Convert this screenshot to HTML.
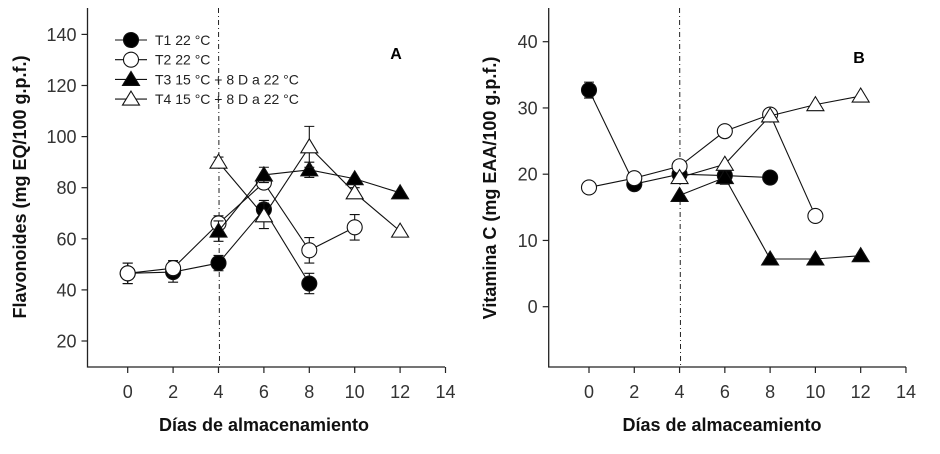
<!DOCTYPE html>
<html><head><meta charset="utf-8"><style>
body{margin:0;background:#fff;}
svg{display:block;font-family:"Liberation Sans",sans-serif;}
.tick{font-size:18px;fill:#333;}
.title{font-size:18px;font-weight:bold;fill:#111;}
</style></head><body>
<svg id="chart" width="940" height="454"></svg>
<script>
const days = [0,2,4,6,8,10,12];
const xTicks = [0,2,4,6,8,10,12,14];
const aYTicks = [20,40,60,80,100,120,140];
const bYTicks = [0,10,20,30,40];
const seriesNames = ["T1 22 °C","T2 22 °C","T3 15 °C + 8 D a 22 °C","T4 15 °C + 8 D a 22 °C"];
const aT1 = [46.5,47,50.5,71.5,42.5,null,null];
const aT2 = [46.5,48.5,66,82,55.5,64.5,null];
const aT3 = [null,null,63,85,87,83.5,78];
const aT4 = [null,null,90,69,96,78,63];
const aT1err = [4,4,3,3.5,4,0,0];
const aT2err = [4,3,3,2,5,5,0];
const aT3err = [0,0,4,3,3,0,0];
const aT4err = [0,0,2,5,8,2,0];
const bT1 = [32.7,18.5,20,19.8,19.5,null,null];
const bT2 = [18,19.4,21.2,26.5,29,13.7,null];
const bT3 = [null,null,16.8,19.5,7.2,7.2,7.7];
const bT4 = [null,null,19.5,21.5,28.8,30.5,31.8];
const bT1err = [1.2,0,0,0,0,0,0];
const bT2err = [0,0,0,0,0,0,0];
const bT3err = [0,0,0,1,0,0,0];
const bT4err = [0,0,0,0,0,0,0];

const svg = document.getElementById('chart');
const NS = 'http://www.w3.org/2000/svg';
function mk(tag, attrs, parent){const e=document.createElementNS(NS,tag);for(const k in attrs)e.setAttribute(k,attrs[k]);(parent||svg).appendChild(e);return e;}

function panel(cfg){
  const g = mk('g',{});
  
  
  const xs = v => cfg.x0 + (v - 0) * cfg.xu;
  const ys = v => cfg.y0 - (v - cfg.yRef) * cfg.yu;
  const ax = mk('path',{d:`M${cfg.left},${cfg.top} V${cfg.bottom} H${cfg.right}`,stroke:'#222','stroke-width':1.3,fill:'none'},g);
  
  
  xTicks.forEach(t=>{
    mk('line',{x1:xs(t),x2:xs(t),y1:cfg.bottom,y2:cfg.bottom+6,stroke:'#222','stroke-width':1.2},g);
    const tx = mk('text',{x:xs(t),y:cfg.bottom+31,'text-anchor':'middle',class:'tick'},g);
    tx.textContent=t;
    
    
  });
  cfg.yTicks.forEach(t=>{
    mk('line',{x1:cfg.left-6,x2:cfg.left,y1:ys(t),y2:ys(t),stroke:'#222','stroke-width':1.2},g);
    const tx = mk('text',{x:cfg.left-11,y:ys(t)+6.5,'text-anchor':'end',class:'tick'},g);
    tx.textContent=t;
    
    
  });
  const dl = mk('line',{x1:xs(4),x2:xs(4)+1,y1:cfg.top,y2:cfg.bottom,stroke:'#222','stroke-width':1,'stroke-dasharray':'5,3,1,3'},g);
  
  
  const xt = mk('text',{x:cfg.xtx,y:431,'text-anchor':'middle',class:'title'},g);
  xt.textContent=cfg.xTitle;
  
  
  const yt = mk('text',{x:0,y:0,'text-anchor':'middle',class:'title',transform:`translate(${cfg.ytx},${cfg.yty}) rotate(-90)`},g);
  yt.textContent=cfg.yTitle;
  
  
  const pl = mk('text',{x:cfg.lx,y:cfg.ly,'text-anchor':'middle',style:'font-size:16px;font-weight:bold'},g);
  pl.textContent=cfg.label;
  
  
  const kinds = ['fc','oc','ft','ot'];
  cfg.series.forEach((s,i)=>{
    const sg = mk('g',{},g);
    
    
    let pts=[];
    s.forEach((v,j)=>{ if(v!==null) pts.push([xs(days[j]),ys(v),cfg.errs[i][j]]); });
    mk('polyline',{points:pts.map(p=>p[0]+','+p[1]).join(' '),fill:'none',stroke:'#111','stroke-width':1.1},sg);
    pts.forEach(p=>{
      if(p[2]>0){
        const e=p[2]*cfg.yu;
        mk('path',{d:`M${p[0]},${p[1]-e}V${p[1]+e}M${p[0]-5},${p[1]-e}h10M${p[0]-5},${p[1]+e}h10`,stroke:'#111','stroke-width':1.1,fill:'none'},sg);
      }
    });
    pts.forEach(p=>{ const m=marker(kinds[i],p[0],p[1],sg);   });
  });
}
function marker(k,x,y,parent){
  if(k==='fc'||k==='oc') return mk('circle',{cx:x,cy:y,r:7.5,fill:k==='fc'?'#000':'#fff',stroke:'#111','stroke-width':1.1},parent);
  return mk('polygon',{points:`${x},${y-8} ${x+8.5},${y+6} ${x-8.5},${y+6}`,fill:k==='ft'?'#000':'#fff',stroke:'#111','stroke-width':1.1},parent);
}
panel({name:'panel-a-flavonoides',left:87.5,right:445,top:8,bottom:367,x0:127.7,xu:22.7,y0:341,yRef:20,yu:2.555,yTicks:aYTicks,
  xTitle:'Días de almacenamiento',xtx:264,yTitle:'Flavonoides (mg EQ/100 g.p.f.)',ytx:26,yty:187,label:'A',lx:396,ly:59,
  series:[aT1,aT2,aT3,aT4],errs:[aT1err,aT2err,aT3err,aT4err]});
panel({name:'panel-b-vitamina-c',left:548.7,right:906,top:8,bottom:367,x0:589,xu:22.64,y0:306.7,yRef:0,yu:6.625,yTicks:bYTicks,
  xTitle:'Días de almaceamiento',xtx:722,yTitle:'Vitamina C (mg EAA/100 g.p.f.)',ytx:496,yty:188,label:'B',lx:859,ly:63,
  series:[bT1,bT2,bT3,bT4],errs:[bT1err,bT2err,bT3err,bT4err]});
const lg = mk('g',{});


const kinds=['fc','oc','ft','ot'];
seriesNames.forEach((n,i)=>{
  const y=40+i*19.7;
  const eg = mk('g',{},lg);
  
  
  mk('line',{x1:115,x2:147,y1:y,y2:y,stroke:'#111','stroke-width':1.1},eg);
  marker(kinds[i],131,y,eg);
  const t=mk('text',{x:155,y:y+5,style:'font-size:14px;fill:#222'},eg);
  t.textContent=n;
});
</script>
</body></html>
